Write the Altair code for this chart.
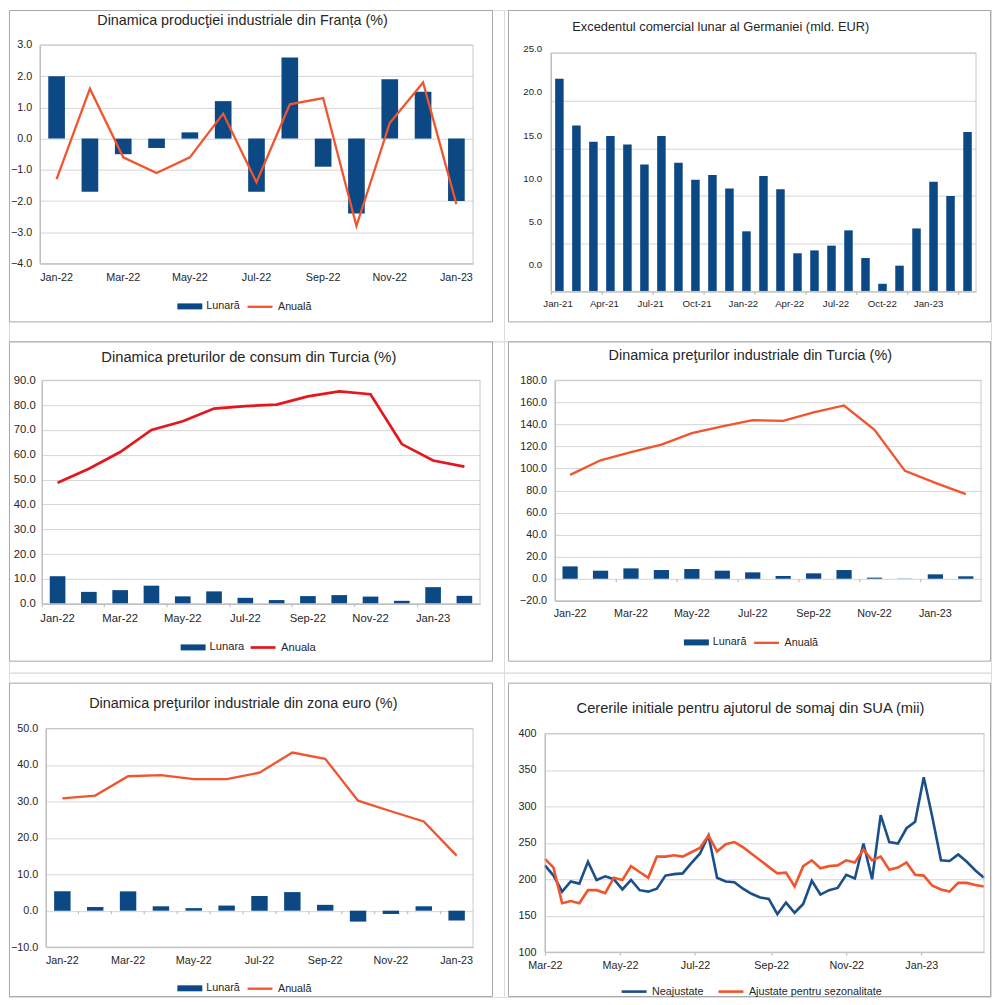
import altair as alt
import pandas as pd

FONT = "Liberation Sans"
BAR_BLUE = "#0b4884"
LINE_ORANGE = "#f2542d"
LINE_RED = "#e3171c"
NSA_BLUE = "#1b4f8a"
GRID = "#d6d6d6"
AXIS = "#b4b4b4"
FRAME = "#a8a8a8"
PLOT_BORDER = "#c9c9c9"
TXT = "#262626"

COL_W = [496, 488]
ROW_H = [332, 332, 325]

# ---------------- data ----------------
fr_months = ["Jan-22", "Feb-22", "Mar-22", "Apr-22", "May-22", "Jun-22", "Jul-22",
             "Aug-22", "Sep-22", "Oct-22", "Nov-22", "Dec-22", "Jan-23"]
fr_lunara = [2.0, -1.7, -0.5, -0.3, 0.2, 1.2, -1.7, 2.6, -0.9, -2.4, 1.9, 1.5, -2.0]
fr_anuala = [-1.3, 1.6, -0.6, -1.1, -0.6, 0.8, -1.4, 1.1, 1.3, -2.8, 0.5, 1.8, -2.1]
fr_ticks = ["Jan-22", "Mar-22", "May-22", "Jul-22", "Sep-22", "Nov-22", "Jan-23"]

de_months = ["Jan-21", "Feb-21", "Mar-21", "Apr-21", "May-21", "Jun-21", "Jul-21", "Aug-21",
             "Sep-21", "Oct-21", "Nov-21", "Dec-21", "Jan-22", "Feb-22", "Mar-22", "Apr-22",
             "May-22", "Jun-22", "Jul-22", "Aug-22", "Sep-22", "Oct-22", "Nov-22", "Dec-22",
             "Jan-23"]
de_surplus = [22.3, 17.4, 15.7, 16.3, 15.4, 13.3, 16.3, 13.5, 11.7, 12.2, 10.8, 6.3, 12.1,
              10.7, 4.0, 4.3, 4.8, 6.4, 3.5, 0.8, 2.7, 6.6, 11.5, 10.0, 16.7]
de_ticks = ["Jan-21", "Apr-21", "Jul-21", "Oct-21", "Jan-22", "Apr-22", "Jul-22", "Oct-22", "Jan-23"]

tr_months = ["Jan-22", "Feb-22", "Mar-22", "Apr-22", "May-22", "Jun-22", "Jul-22",
             "Aug-22", "Sep-22", "Oct-22", "Nov-22", "Dec-22", "Jan-23", "Feb-23"]
tr_ticks = ["Jan-22", "Mar-22", "May-22", "Jul-22", "Sep-22", "Nov-22", "Jan-23"]
tr_cpi_lunara = [11.1, 4.8, 5.5, 7.3, 3.0, 5.0, 2.4, 1.5, 3.1, 3.5, 2.9, 1.2, 6.7, 3.2]
tr_cpi_anuala = [48.7, 54.4, 61.1, 70.0, 73.5, 78.6, 79.6, 80.2, 83.5, 85.5, 84.4, 64.3, 57.7, 55.2]
tr_ppi_lunara = [11.2, 7.3, 9.4, 7.9, 8.8, 7.3, 5.8, 2.5, 4.9, 7.9, 1.0, -0.2, 4.0, 2.2]
tr_ppi_anuala = [94.2, 107.4, 114.9, 121.6, 132.1, 138.1, 143.8, 143.2, 150.8, 157.1,
                 135.1, 97.8, 86.9, 76.7]

ez_months = ["Jan-22", "Feb-22", "Mar-22", "Apr-22", "May-22", "Jun-22", "Jul-22",
             "Aug-22", "Sep-22", "Oct-22", "Nov-22", "Dec-22", "Jan-23"]
ez_ticks = ["Jan-22", "Mar-22", "May-22", "Jul-22", "Sep-22", "Nov-22", "Jan-23"]
ez_lunara = [5.3, 1.0, 5.3, 1.2, 0.7, 1.4, 4.0, 5.1, 1.6, -3.0, -0.9, 1.2, -2.7]
ez_anuala = [30.8, 31.6, 36.9, 37.2, 36.1, 36.1, 37.9, 43.4, 41.7, 30.2, 27.3, 24.5, 15.1]

us_weeks = ["2022-03-01", "2022-03-08", "2022-03-15", "2022-03-22", "2022-03-29",
            "2022-04-05", "2022-04-12", "2022-04-19", "2022-04-26", "2022-05-03",
            "2022-05-10", "2022-05-17", "2022-05-24", "2022-05-31", "2022-06-07",
            "2022-06-14", "2022-06-21", "2022-06-28", "2022-07-05", "2022-07-12",
            "2022-07-19", "2022-07-26", "2022-08-02", "2022-08-09", "2022-08-16",
            "2022-08-23", "2022-08-30", "2022-09-06", "2022-09-13", "2022-09-20",
            "2022-09-27", "2022-10-04", "2022-10-11", "2022-10-18", "2022-10-25",
            "2022-11-01", "2022-11-08", "2022-11-15", "2022-11-22", "2022-11-29",
            "2022-12-06", "2022-12-13", "2022-12-20", "2022-12-27", "2023-01-03",
            "2023-01-10", "2023-01-17", "2023-01-24", "2023-01-31", "2023-02-07",
            "2023-02-14", "2023-02-21"]
us_nsa = [219, 205, 183, 197, 194, 224, 199, 204, 200, 186, 199, 185, 183, 187, 205, 207,
          208, 222, 235, 260, 202, 197, 196, 187, 180, 175, 173, 152, 168, 154, 166, 198,
          179, 185, 188, 206, 201, 249, 200, 288, 251, 249, 270, 279, 340, 285, 226, 225,
          234, 224, 212, 202]
us_sa = [228, 216, 167, 170, 167, 185, 185, 181, 202, 199, 218, 210, 202, 231, 231, 233,
         231, 237, 243, 260, 238, 248, 251, 244, 235, 226, 217, 208, 209, 190, 218, 226,
         215, 218, 219, 226, 223, 241, 226, 231, 213, 216, 223, 206, 205, 191, 186, 183,
         195, 195, 192, 190]


# ---------------- helpers ----------------
def cell_origin(cell):
    r, c = cell
    return 8 + sum(COL_W[:c]), 8 + sum(ROW_H[:r])


def deco(title, tsize, tx, ty, cell, frame, plot):
    """Panel frame, plot-area border and title (page coordinates -> cell coordinates)."""
    cx, cy = cell_origin(cell)
    one = pd.DataFrame({"k": [0]})
    fx1, fy1, fx2, fy2 = frame
    box = alt.Chart(one).mark_rect(fillOpacity=0, stroke=FRAME, strokeWidth=1).encode(
        x=alt.value(fx1 - cx), x2=alt.value(fx2 - cx),
        y=alt.value(fy1 - cy), y2=alt.value(fy2 - cy))
    px, py, W, H = plot
    border = alt.Chart(one).mark_rect(fillOpacity=0, stroke=PLOT_BORDER, strokeWidth=1).encode(
        x=alt.value(px - cx), x2=alt.value(px - cx + W),
        y=alt.value(py - cy), y2=alt.value(py - cy + H))
    ttl = alt.Chart(one).mark_text(text=title, font=FONT, fontSize=tsize, color=TXT,
                                   align="center", baseline="alphabetic").encode(
        x=alt.value(tx - cx), y=alt.value(ty - cy))
    return box, border, ttl


def tick_layer(months, tick_months, L, W, offset):
    """Small category-boundary ticks, drawn by an axis of its own band scale."""
    df = pd.DataFrame({"m": months})
    return alt.Chart(df).mark_point(opacity=0, size=1).encode(
        x=alt.X("m:N", sort=months,
                scale=alt.Scale(type="band", paddingInner=0, paddingOuter=0, range=[L, L + W]),
                axis=alt.Axis(orient="bottom", values=tick_months, bandPosition=0,
                              labels=False, ticks=True, tickSize=3, tickColor=AXIS,
                              domain=False, grid=False, title=None, offset=offset)))


def bar_line(cfg):
    cell = cfg["cell"]
    cx, cy = cell_origin(cell)
    ch = ROW_H[cell[0]]
    cw = COL_W[cell[1]]
    px, py, W, H = cfg["plot"]
    L, T = px - cx, py - cy
    months = cfg["months"]
    df = pd.DataFrame({"m": months, "lun": cfg["lun"], "anu": cfg["anu"],
                       "s1": cfg["n1"], "s2": cfg["n2"]})
    lfs = cfg["lfs"]
    xaxis = alt.Axis(values=cfg["xticks"], labelAngle=0, title=None, grid=False, ticks=False,
                     domainColor=AXIS, labelPadding=cfg["xpad"], labelFontSize=lfs,
                     labelColor=TXT, labelFont=FONT, labelOverlap=False,
                     offset=-(ch - T - H))
    yaxis = alt.Axis(values=cfg["yvals"], tickCount=40, format=".1f", title=None, grid=True,
                     gridColor=GRID, ticks=False, domainColor=AXIS, labelPadding=cfg["ypad"],
                     labelFontSize=lfs, labelColor=TXT, labelFont=FONT, labelOverlap=False,
                     offset=-L)
    bx, by = cfg["legbar"]
    lx, ly = cfg["legline"]
    bars = alt.Chart(df).mark_bar().encode(
        x=alt.X("m:N", sort=months, axis=xaxis,
                scale=alt.Scale(type="band", paddingInner=0.5, paddingOuter=0.25,
                                range=[L, L + W])),
        y=alt.Y("lun:Q", scale=alt.Scale(domain=cfg["ydom"], nice=False, range=[T + H, T]),
                axis=yaxis),
        color=alt.Color("s1:N", scale=alt.Scale(domain=[cfg["n1"]], range=[BAR_BLUE]),
                        legend=alt.Legend(orient="none", legendX=bx - cx, legendY=by - cy,
                                          title=None, symbolType="M-1,-0.24H1V0.24H-1Z",
                                          symbolSize=625, symbolStrokeWidth=0, padding=0,
                                          labelOffset=4, labelFont=FONT,
                                          labelFontSize=cfg["legfs"], labelColor=TXT)))
    line = alt.Chart(df).mark_line(strokeWidth=cfg["lw"]).encode(
        x=alt.X("m:N", sort=months, bandPosition=0.5),
        y=alt.Y("anu:Q"),
        stroke=alt.Stroke("s2:N", scale=alt.Scale(domain=[cfg["n2"]], range=[cfg["lcolor"]]),
                          legend=alt.Legend(orient="none", legendX=lx - cx, legendY=ly - cy,
                                            title=None, symbolType="stroke", symbolSize=625,
                                            symbolStrokeWidth=cfg["lw"], padding=0,
                                            labelOffset=4, labelFont=FONT,
                                            labelFontSize=cfg["legfs"], labelColor=TXT)))
    box, border, ttl = deco(cfg["title"], cfg["tsize"], cfg["tx"], cfg["ty"], cell,
                            cfg["frame"], cfg["plot"])
    main = alt.layer(box, bars, line, border, ttl)
    if cfg.get("tickmonths"):
        y0 = cfg["ydom"][1]
        frac = (y0 - cfg.get("tick_at", cfg["ydom"][0])) / (cfg["ydom"][1] - cfg["ydom"][0])
        tick_y = T + H * frac
        ticks = tick_layer(months, cfg["tickmonths"], L, W, -(ch - tick_y))
        return (alt.layer(main, ticks).resolve_scale(x="independent")
                .properties(width=cw, height=ch))
    return main.properties(width=cw, height=ch)


def germany():
    cell = (0, 1)
    cx, cy = cell_origin(cell)
    ch = ROW_H[0]
    px, py, W, H = 551, 51, 426, 239
    L, T = px - cx, py - cy
    df = pd.DataFrame({"m": de_months, "v": de_surplus})
    yv = [0, 5, 10, 15, 20, 25]
    bars = alt.Chart(df).mark_bar(color=BAR_BLUE).encode(
        x=alt.X("m:N", sort=de_months,
                scale=alt.Scale(type="band", paddingInner=0.5, paddingOuter=0.25,
                                range=[L, L + W]),
                axis=alt.Axis(labels=False, ticks=False, grid=False, domainColor=AXIS,
                              title=None, offset=-(ch - T - H))),
        y=alt.Y("v:Q", scale=alt.Scale(domain=[0, 25], nice=False, range=[T + H, T]),
                axis=alt.Axis(values=yv, tickCount=40, labels=False, ticks=False, grid=True,
                              gridColor=GRID, domainColor=AXIS, title=None, offset=-L)))
    # tick labels of the picture are a slightly shrunk copy: own scales for them
    labels = alt.Chart(df).mark_point(opacity=0, size=1).encode(
        x=alt.X("m:N", sort=de_months,
                scale=alt.Scale(type="point", range=[L + 6.7, L + 378], padding=0),
                axis=alt.Axis(orient="bottom", values=de_ticks, labelAngle=0, ticks=False,
                              domain=False, grid=False, title=None, labelPadding=7.5,
                              labelFontSize=9.7, labelFont=FONT, labelColor=TXT,
                              labelOverlap=False, offset=-(ch - T - H))),
        y=alt.Y("v:Q", scale=alt.Scale(domain=[0, 25], range=[T + 212.3, T - 4.3], nice=False),
                axis=alt.Axis(orient="left", values=yv, tickCount=40, format=".1f", ticks=False,
                              domain=False, grid=False, title=None, labelPadding=9.3,
                              labelFontSize=9.7, labelFont=FONT, labelColor=TXT,
                              labelOverlap=False, offset=-L)))
    ticks = tick_layer(de_months, de_ticks, L, W, -(ch - T - H))
    box, border, ttl = deco("Excedentul comercial lunar al Germaniei (mld. EUR)", 12.85,
                            721.2, 29.5, cell, (508.5, 8.5, 991.5, 320.5), (px, py, W, H))
    return (alt.layer(box, bars, labels, ticks, border, ttl)
            .resolve_scale(x="independent", y="independent")
            .properties(width=COL_W[1], height=ch))


def claims():
    cell = (2, 1)
    cx, cy = cell_origin(cell)
    ch = ROW_H[2]
    px, py, W, H = 545, 733, 440, 219
    L, T = px - cx, py - cy
    df = pd.DataFrame({"d": [w + "T00:00:00" for w in us_weeks], "nsa": us_nsa, "sa": us_sa,
                       "s1": "Neajustate", "s2": "Ajustate pentru sezonalitate"})
    xscale = alt.Scale(domain=[alt.DateTime(year=2022, month=3, date=1),
                               alt.DateTime(year=2023, month=2, date=21)],
                       range=[L, L + W])
    xvals = [alt.DateTime(year=2022, month=m, date=1) for m in (3, 5, 7, 9, 11)]
    xvals.append(alt.DateTime(year=2023, month=1, date=1))
    xaxis = alt.Axis(values=xvals, tickCount=40, format="%b-%y", labelFlush=False,
                     labelOverlap=False, grid=False, ticks=True, tickSize=3, tickColor=AXIS,
                     domainColor=AXIS, labelPadding=4.4, title=None, labelFontSize=10.8,
                     labelFont=FONT, labelColor=TXT, labelAngle=0, offset=-(ch - T - H))
    yaxis = alt.Axis(values=[100, 150, 200, 250, 300, 350, 400], tickCount=40, format="d",
                     title=None, grid=True, gridColor=GRID, ticks=False, domainColor=AXIS,
                     labelPadding=9, labelFontSize=10.8, labelFont=FONT, labelColor=TXT,
                     labelOverlap=False, offset=-L)
    cscale = alt.Scale(domain=["Neajustate", "Ajustate pentru sezonalitate"],
                       range=[NSA_BLUE, LINE_ORANGE])
    leg = alt.Legend(orient="none", legendX=621.7 - 1.3 - cx, legendY=991 - 13.8 - cy,
                     direction="horizontal", title=None, symbolType="stroke", symbolSize=625,
                     symbolStrokeWidth=2.6, columnPadding=9, padding=0, labelOffset=4,
                     labelFont=FONT, labelFontSize=10.8, labelColor=TXT)
    l1 = alt.Chart(df).mark_line(strokeWidth=2.6).encode(
        x=alt.X("d:T", scale=xscale, axis=xaxis),
        y=alt.Y("nsa:Q", scale=alt.Scale(domain=[100, 400], nice=False, range=[T + H, T]),
                axis=yaxis),
        color=alt.Color("s1:N", scale=cscale, legend=leg))
    l2 = alt.Chart(df).mark_line(strokeWidth=2.6).encode(
        x=alt.X("d:T"), y=alt.Y("sa:Q"),
        color=alt.Color("s2:N", scale=cscale, legend=leg))
    box, border, ttl = deco("Cererile initiale pentru ajutorul de somaj din SUA (mii)", 14.7,
                            751, 712.3, cell, (508.5, 682.5, 991.5, 996.5), (px, py, W, H))
    return alt.layer(box, l1, l2, border, ttl).properties(width=COL_W[1], height=ch)


p1 = bar_line(dict(
    plot=(39, 43, 434, 219), months=fr_months, lun=fr_lunara, anu=fr_anuala,
    n1="Lunară", n2="Anuală", xticks=fr_ticks, ydom=[-4, 3],
    yvals=[-4, -3, -2, -1, 0, 1, 2, 3], xpad=8.1, ypad=8.3, lfs=10.8, legfs=10.8,
    legbar=(176.7, 305 - 12.5), legline=(246.7 - 1.2, 305 - 13.6), lw=2.3,
    lcolor=LINE_ORANGE, title="Dinamica producţiei industriale din Franța (%)", tsize=14.4,
    tx=242, ty=22.7, cell=(0, 0), frame=(8.5, 8.5, 492.5, 320.5)))

p2 = germany()

p3 = bar_line(dict(
    plot=(41, 379, 439, 224), months=tr_months, lun=tr_cpi_lunara, anu=tr_cpi_anuala,
    n1="Lunara", n2="Anuala", xticks=tr_ticks, ydom=[0, 90],
    yvals=[0, 10, 20, 30, 40, 50, 60, 70, 80, 90], xpad=8.4, ypad=6.7, lfs=11.3, legfs=11.2,
    legbar=(180, 646.7 - 12.5), legline=(250 - 1.4, 646.7 - 13.9), lw=2.7,
    lcolor=LINE_RED, title="Dinamica preturilor de consum din Turcia (%)", tsize=14.8,
    tx=248.3, ty=360.3, cell=(1, 0), frame=(8.5, 340.5, 492.5, 660.5),
    tickmonths=tr_ticks))

p4 = bar_line(dict(
    plot=(555, 379, 427, 221), months=tr_months, lun=tr_ppi_lunara, anu=tr_ppi_anuala,
    n1="Lunară", n2="Anuală", xticks=tr_ticks, ydom=[-20, 180],
    yvals=[-20, 0, 20, 40, 60, 80, 100, 120, 140, 160, 180], xpad=6.7, ypad=8.3, lfs=10.8,
    legfs=10.8, legbar=(684.3, 641.7 - 12.5), legline=(754.3 - 1.2, 641.7 - 13.6), lw=2.3,
    lcolor=LINE_ORANGE, title="Dinamica preţurilor industriale din Turcia (%)", tsize=14.45,
    tx=750.8, ty=359, cell=(1, 1), frame=(508.5, 340.5, 991.5, 660.5),
    tickmonths=tr_ticks, tick_at=0))

p5 = bar_line(dict(
    plot=(45, 728, 428, 219), months=ez_months, lun=ez_lunara, anu=ez_anuala,
    n1="Lunară", n2="Anuală", xticks=ez_ticks, ydom=[-10, 50],
    yvals=[-10, 0, 10, 20, 30, 40, 50], xpad=7.1, ypad=8.3, lfs=10.8, legfs=10.8,
    legbar=(176.7, 988.3 - 12.5), legline=(246.7 - 1.2, 988.3 - 13.6), lw=2.3,
    lcolor=LINE_ORANGE, title="Dinamica preţurilor industriale din zona euro (%)", tsize=14.44,
    tx=242.8, ty=707.3, cell=(2, 0), frame=(8.5, 682.5, 492.5, 996.5),
    tickmonths=ez_months, tick_at=0))

p6 = claims()

chart = (alt.concat(p1, p2, p3, p4, p5, p6, columns=2, spacing=0, bounds="flush", align="each")
         .resolve_scale(color="independent", stroke="independent")
         .resolve_legend(color="independent", stroke="independent")
         .properties(padding=0)
         .configure_view(stroke="transparent")
         .configure(font=FONT))

chart.save("out.html", embed_options={"renderer": "svg", "actions": False})
